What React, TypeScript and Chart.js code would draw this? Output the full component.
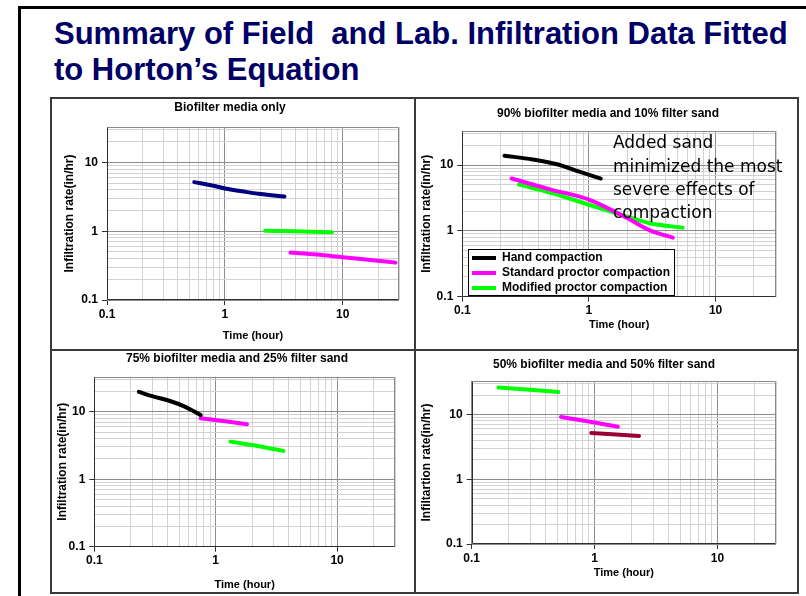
import React, { useEffect, useRef } from 'react';
import { Chart, registerables } from 'chart.js';

Chart.register(...registerables);

// ---------------- text ----------------
const slideTitleLine1 = 'Summary of Field  and Lab. Infiltration Data Fitted';
const slideTitleLine2 = 'to Horton\u2019s Equation';
const noteLines = ['Added sand', 'minimized the most', 'severe effects of', 'compaction'];

const xAxisTitle = 'Time (hour)';
const yAxisTitle = 'Infiltration rate(in/hr)';
const yAxisTitleLast = 'Infiltartion rate(in/hr)';

const panelTitles = [
  'Biofilter media only',
  '90% biofilter media and 10% filter sand',
  '75% biofilter media and 25% filter sand',
  '50% biofilter media and 50% filter sand',
];

const legendLabels = ['Hand compaction', 'Standard proctor compaction', 'Modified proctor compaction'];

// ---------------- axes ----------------
const majorTickValues = [0.1, 1, 10];
const majorTickLabels = ['0.1', '1', '10'];
const minorMultipliers = [2, 3, 4, 5, 6, 7, 8, 9];
const xMin = 0.1;
const xMax = 30;
const yMin = 0.1;
const yMax = 33;

// ---------------- data ----------------
// Panel 1: Biofilter media only
const p1NavyX = [0.55, 0.8, 1, 1.5, 2, 3.2];
const p1NavyY = [5.2, 4.6, 4.2, 3.75, 3.5, 3.2];
const p1GreenX = [2.2, 4, 8.1];
const p1GreenY = [1.02, 1.0, 0.97];
const p1MagentaX = [3.6, 6, 10, 18, 28];
const p1MagentaY = [0.49, 0.46, 0.42, 0.38, 0.35];

// Panel 2: 90% / 10%
const p2HandX = [0.215, 0.36, 0.56, 0.85, 1.24];
const p2HandY = [13.9, 12.2, 10.3, 7.9, 6.25];
const p2StdX = [0.245, 0.5, 1, 2, 3, 4.6];
const p2StdY = [6.25, 4.25, 3.0, 1.57, 1.03, 0.79];
const p2ModX = [0.28, 0.5, 1, 2, 3, 5.5];
const p2ModY = [5.05, 3.8, 2.5, 1.65, 1.31, 1.12];

// Panel 3: 75% / 25%
const p3HandX = [0.233, 0.3, 0.42, 0.55, 0.753];
const p3HandY = [19.7, 17, 14.4, 12, 8.9];
const p3StdX = [0.75, 1.2, 1.81];
const p3StdY = [8.0, 7.2, 6.5];
const p3ModX = [1.32, 2.2, 3.62];
const p3ModY = [3.6, 3.1, 2.63];

// Panel 4: 50% / 50%
const p4GreenX = [0.165, 0.3, 0.507];
const p4GreenY = [26.1, 24.2, 22.3];
const p4MagentaX = [0.533, 0.9, 1.55];
const p4MagentaY = [9.2, 7.8, 6.5];
const p4RedX = [0.94, 1.5, 2.3];
const p4RedY = [5.2, 4.9, 4.68];

// ---------------- styles ----------------
const FONT = 'Liberation Sans, Arial, Helvetica, sans-serif';
const NAVY = '#000080';
const GREEN = '#00FF00';
const MAGENTA = '#FF00FF';
const BLACK = '#000000';
const DARKRED = '#990033';

type Series = { label: string; color: string; x: number[]; y: number[] };
type Panel = {
  title: string;
  yTitle: string;
  series: Series[];
  left: number;
  top: number;
  width: number;
  height: number;
  yWidth: number;
  xHeight: number;
  padRight: number;
  titlePad: { top: number; bottom: number };
  yTitlePad: number;
  xTitlePad: number;
  legend?: boolean;
};

const panels: Panel[] = [
  {
    title: panelTitles[0],
    yTitle: yAxisTitle,
    series: [
      { label: 'Hand compaction', color: NAVY, x: p1NavyX, y: p1NavyY },
      { label: 'Standard proctor compaction', color: GREEN, x: p1GreenX, y: p1GreenY },
      { label: 'Modified proctor compaction', color: MAGENTA, x: p1MagentaX, y: p1MagentaY },
    ],
    left: 60, top: 99, width: 340, height: 246,
    yWidth: 47, xHeight: 45, padRight: 1,
    titlePad: { top: 1.8, bottom: 11.8 }, yTitlePad: 2.8, xTitlePad: 2.7,
  },
  {
    title: panelTitles[1],
    yTitle: yAxisTitle,
    series: [
      { label: legendLabels[0], color: BLACK, x: p2HandX, y: p2HandY },
      { label: legendLabels[1], color: MAGENTA, x: p2StdX, y: p2StdY },
      { label: legendLabels[2], color: GREEN, x: p2ModX, y: p2ModY },
    ],
    left: 418, top: 99, width: 380, height: 241,
    yWidth: 44.3, xHeight: 43.3, padRight: 22,
    titlePad: { top: 7.8, bottom: 9.8 }, yTitlePad: 1.8, xTitlePad: 8.4,
    legend: true,
  },
  {
    title: panelTitles[2],
    yTitle: yAxisTitle,
    series: [
      { label: legendLabels[0], color: BLACK, x: p3HandX, y: p3HandY },
      { label: legendLabels[1], color: MAGENTA, x: p3StdX, y: p3StdY },
      { label: legendLabels[2], color: GREEN, x: p3ModX, y: p3ModY },
    ],
    left: 55, top: 351, width: 364, height: 241,
    yWidth: 39.3, xHeight: 45.3, padRight: 24,
    titlePad: { top: 0.8, bottom: 10.5 }, yTitlePad: 0.8, xTitlePad: 0.4,
  },
  {
    title: panelTitles[3],
    yTitle: yAxisTitleLast,
    series: [
      { label: legendLabels[2], color: GREEN, x: p4GreenX, y: p4GreenY },
      { label: legendLabels[1], color: MAGENTA, x: p4MagentaX, y: p4MagentaY },
      { label: legendLabels[0], color: DARKRED, x: p4RedX, y: p4RedY },
    ],
    left: 418, top: 352, width: 372, height: 238,
    yWidth: 53.7, xHeight: 46, padRight: 14,
    titlePad: { top: 5.8, bottom: 8.8 }, yTitlePad: 1.8, xTitlePad: 10.4,
  },
];

// ---------------- helpers ----------------
const near = (a: number, b: number) => Math.abs(a - b) < 1e-9 * Math.max(1, Math.abs(b));
const isMajor = (v: number) => majorTickValues.some((t) => near(t, v));

function gridValues(max: number): number[] {
  const out: number[] = [];
  for (const d of majorTickValues) {
    if (d <= max) out.push(d);
    for (const m of minorMultipliers) {
      const v = Number((d * m).toFixed(4));
      if (v <= max + 1e-9) out.push(v);
    }
  }
  return out;
}

const framePlugin = {
  id: 'plotFrame',
  beforeDatasetsDraw(chart: any) {
    const { ctx, chartArea: a } = chart;
    const l = Math.round(a.left) + 0.5;
    const r = Math.round(a.right) - 0.5;
    const t = Math.round(a.top) + 0.5;
    const b = Math.round(a.bottom) - 0.5;
    ctx.save();
    ctx.lineWidth = 1;
    ctx.strokeStyle = '#8a8a8a';
    ctx.beginPath();
    ctx.moveTo(l, t);
    ctx.lineTo(r, t);
    ctx.lineTo(r, b);
    ctx.stroke();
    ctx.strokeStyle = '#303030';
    ctx.beginPath();
    ctx.moveTo(l, t);
    ctx.lineTo(l, b);
    ctx.lineTo(r, b);
    ctx.stroke();
    ctx.restore();
  },
};

const legendFramePlugin = {
  id: 'legendFrame',
  afterLayout(chart: any, _args: any, opts: any) {
    if (!opts || !opts.box) return;
    const lg = chart.legend;
    if (!lg) return;
    lg.left = opts.itemsLeft;
    lg.top = opts.box.y;
    lg.right = opts.itemsLeft + opts.box.w + 20;
    lg.bottom = opts.box.y + 60;
    lg.width = lg.right - lg.left;
    lg.height = 60;
  },
  afterDatasetsDraw(chart: any, _args: any, opts: any) {
    if (!opts || !opts.box) return;
    const { ctx } = chart;
    const b = opts.box;
    ctx.save();
    ctx.fillStyle = '#ffffff';
    ctx.fillRect(b.x, b.y, b.w, b.h);
    ctx.strokeStyle = '#000000';
    ctx.lineWidth = 1;
    ctx.strokeRect(b.x + 0.5, b.y + 0.5, b.w - 1, b.h - 1);
    ctx.restore();
    if (chart.legend) chart.legend.draw();
  },
};

function logAxis(min: number, max: number, isX: boolean, title: string, titlePad: number, panel: Panel) {
  return {
    type: 'logarithmic' as const,
    position: isX ? ('bottom' as const) : ('left' as const),
    min,
    max,
    afterBuildTicks: (s: any) => {
      s.ticks = gridValues(max).map((v) => ({ value: v }));
    },
    afterFit: (s: any) => {
      if (isX) {
        s.height = panel.xHeight;
        s.paddingLeft = 0;
        s.paddingRight = panel.padRight;
      } else {
        s.width = panel.yWidth;
        s.paddingTop = 0;
        s.paddingBottom = 0;
      }
    },
    ticks: {
      autoSkip: false,
      maxRotation: 0,
      minRotation: 0,
      padding: isX ? 2 : 4,
      color: '#000',
      font: { family: FONT, size: 12, weight: 'bold' as const },
      callback: (v: any) => {
        const i = majorTickValues.findIndex((t) => near(t, Number(v)));
        return i >= 0 ? majorTickLabels[i] : '';
      },
    },
    grid: {
      lineWidth: 1,
      color: (c: any) => (c.tick && isMajor(c.tick.value) ? '#8c8c8c' : '#d2d2d2'),
      drawTicks: true,
      tickLength: 5,
      tickColor: (c: any) => (c.tick && isMajor(c.tick.value) ? '#303030' : 'rgba(0,0,0,0)'),
    },
    border: { display: false },
    title: {
      display: true,
      text: title,
      color: '#000',
      font: { family: FONT, size: isX ? 11 : 12, weight: 'bold' as const },
      padding: isX ? { top: 0, bottom: titlePad } : { top: titlePad, bottom: 0 },
    },
  };
}

function PanelChart({ panel }: { panel: Panel }) {
  const ref = useRef<HTMLCanvasElement>(null);
  useEffect(() => {
    if (!ref.current) return;
    const legendOpts = panel.legend
      ? {
          // legend frame in canvas coordinates
          box: { x: 468 - panel.left, y: 249 - panel.top, w: 207, h: 47 },
          itemsLeft: 469 - panel.left,
        }
      : {};
    const chart = new Chart(ref.current, {
      type: 'line',
      data: {
        datasets: panel.series.map((s) => ({
          label: s.label,
          data: s.x.map((x, i) => ({ x, y: s.y[i] })),
          borderColor: s.color,
          backgroundColor: s.color,
          borderWidth: 4,
          borderCapStyle: 'round' as const,
          borderJoinStyle: 'round' as const,
          pointRadius: 0,
          pointHoverRadius: 0,
          fill: false,
          cubicInterpolationMode: 'monotone' as const,
        })),
      },
      options: {
        responsive: false,
        animation: false,
        devicePixelRatio: 1,
        layout: { padding: 0 },
        scales: {
          x: logAxis(xMin, xMax, true, xAxisTitle, panel.xTitlePad, panel),
          y: logAxis(yMin, yMax, false, panel.yTitle, panel.yTitlePad, panel),
        },
        plugins: {
          title: {
            display: true,
            text: panel.title,
            color: '#000',
            font: { family: FONT, size: 12, weight: 'bold' },
            padding: panel.titlePad,
          },
          legend: panel.legend
            ? {
                display: true,
                position: 'chartArea',
                align: 'start',
                labels: {
                  boxWidth: 24,
                  boxHeight: 4,
                  padding: 3,
                  color: '#000',
                  font: { family: FONT, size: 12, weight: 'bold' },
                  generateLabels: (ch: any) =>
                    ch.data.datasets.map((ds: any, i: number) => ({
                      text: ds.label,
                      fillStyle: ds.borderColor,
                      strokeStyle: ds.borderColor,
                      lineWidth: 0,
                      hidden: false,
                      datasetIndex: i,
                    })),
                },
              }
            : { display: false },
          tooltip: { enabled: false },
          legendFrame: legendOpts,
        } as any,
      },
      plugins: [framePlugin, legendFramePlugin],
    } as any);
    return () => chart.destroy();
  }, [panel]);
  return (
    <canvas
      ref={ref}
      width={panel.width}
      height={panel.height}
      style={{ position: 'absolute', left: panel.left, top: panel.top, width: panel.width, height: panel.height }}
    />
  );
}

const lineColor = '#3a3a3a';
function Rule({ l, t, w, h }: { l: number; t: number; w: number; h: number }) {
  return <div style={{ position: 'absolute', left: l, top: t, width: w, height: h, background: lineColor }} />;
}

export default function App() {
  return (
    <div
      style={{
        position: 'fixed',
        left: 0,
        top: 0,
        width: 806,
        height: 596,
        background: '#fff',
        overflow: 'hidden',
      }}
    >
      {/* slide frame */}
      <div
        style={{
          position: 'absolute',
          left: 18,
          top: 6,
          width: 900,
          height: 700,
          borderLeft: '3px solid #000',
          borderTop: '3px solid #000',
        }}
      />
      {/* slide title */}
      <div
        style={{
          position: 'absolute',
          left: 54,
          top: 16.4,
          fontFamily: FONT,
          fontWeight: 'bold',
          fontSize: 31,
          lineHeight: '35.7px',
          color: '#000066',
          whiteSpace: 'pre',
        }}
      >
        <div>{slideTitleLine1}</div>
        <div>{slideTitleLine2}</div>
      </div>
      {/* chart grid rules */}
      <Rule l={50} t={97} w={749} h={2} />
      <Rule l={50} t={592} w={749} h={2} />
      <Rule l={50} t={97} w={2} h={497} />
      <Rule l={797} t={97} w={2} h={497} />
      <Rule l={414} t={97} w={2} h={497} />
      <Rule l={50} t={349} w={749} h={2} />
      {panels.map((p, i) => (
        <PanelChart key={i} panel={p} />
      ))}
      {/* annotation */}
      <div
        style={{
          position: 'absolute',
          left: 613,
          top: 131.3,
          fontFamily: 'DejaVu Sans, Verdana, sans-serif',
          fontSize: 17,
          lineHeight: '23.3px',
          color: '#000',
          whiteSpace: 'pre',
        }}
      >
        {noteLines.map((t, i) => (
          <div key={i}>{t}</div>
        ))}
      </div>
    </div>
  );
}
